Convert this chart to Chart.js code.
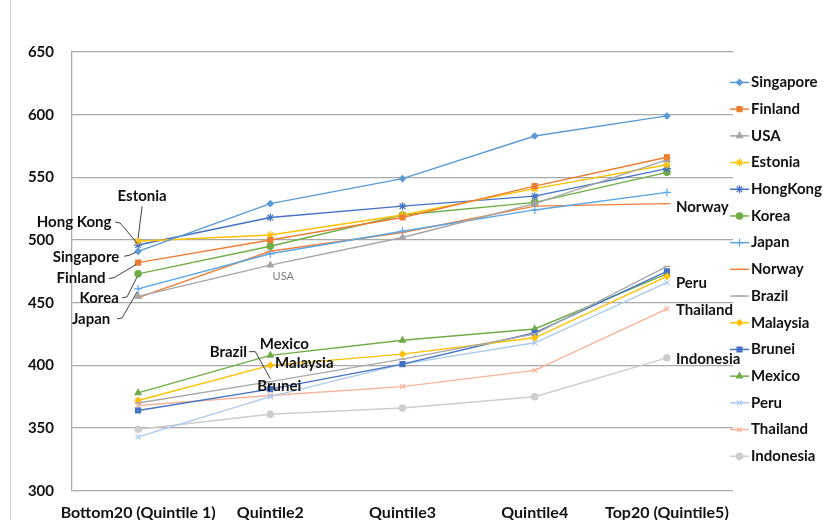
<!DOCTYPE html>
<html>
<head>
<meta charset="utf-8">
<script src="https://cdn.jsdelivr.net/npm/chart.js@4/dist/chart.umd.min.js"></script>
<style>
  html, body { margin: 0; padding: 0; background: #ffffff; }
  #wrap { position: relative; width: 824px; height: 520px; }
  canvas { display: block; }
</style>
</head>
<body>
<div id="wrap"><canvas id="c" width="824" height="520"></canvas></div>
<script>
// Mean scores by income quintile
const quintiles = ['Bottom20 (Quintile 1)', 'Quintile2', 'Quintile3', 'Quintile4', 'Top20 (Quintile5)'];
const yTicks = [300, 350, 400, 450, 500, 550, 600, 650];

const singapore = [491, 529, 549, 583, 599];
const finland   = [482, 500, 518, 543, 566];
const usa       = [455, 480, 502, 529, 564];
const estonia   = [499, 504, 520, 541, 560];
const hongKong  = [496, 518, 527, 535, 557];
const korea     = [473, 495, 520, 530, 554];
const japan     = [461, 489, 507, 524, 538];
const norway    = [454, 491, 506, 527, 529];
const brazil    = [370, 387, 405, 425, 479];
const malaysia  = [372, 400, 409, 422, 471];
const brunei    = [364, 381, 401, 426, 475];
const mexico    = [378, 408, 420, 429, 473];
const peru      = [343, 375, 401, 418, 466];
const thailand  = [368, 376, 383, 396, 445];
const indonesia = [349, 361, 366, 375, 406];

const series = [
  { label: 'Singapore', data: singapore, color: '#5B9BD5', style: 'rectRot', r: 3 },
  { label: 'Finland',   data: finland,   color: '#ED7D31', style: 'rect',    r: 3.5 },
  { label: 'USA',       data: usa,       color: '#A5A5A5', style: 'triangle', r: 3.5 },
  { label: 'Estonia',   data: estonia,   color: '#FFC000', style: 'star',    r: 4 },
  { label: 'HongKong',  data: hongKong,  color: '#4472C4', style: 'star',    r: 4 },
  { label: 'Korea',     data: korea,     color: '#70AD47', style: 'circle',  r: 3.2 },
  { label: 'Japan',     data: japan,     color: '#5AA5E6', style: 'cross',   r: 4 },
  { label: 'Norway',    data: norway,    color: '#F2813A', style: 'line',    r: 3.5 },
  { label: 'Brazil',    data: brazil,    color: '#A9A9A9', style: 'line',    r: 3.5 },
  { label: 'Malaysia',  data: malaysia,  color: '#FFC000', style: 'rectRot', r: 3 },
  { label: 'Brunei',    data: brunei,    color: '#4472C4', style: 'rect',    r: 3.5 },
  { label: 'Mexico',    data: mexico,    color: '#70AD47', style: 'triangle', r: 3.5 },
  { label: 'Peru',      data: peru,      color: '#A9CBEE', style: 'crossRot', r: 3.5 },
  { label: 'Thailand',  data: thailand,  color: '#F5B39A', style: 'crossRot', r: 3.5 },
  { label: 'Indonesia', data: indonesia, color: '#CDCDCD', style: 'circle',  r: 3.2 }
];

// Callout labels attached to a series point; offsets in px from that point
const callouts = [
  { series: 'Estonia',   i: 0, text: 'Estonia',   dx: 4,   dy: -45, align: 'center', leader: [[4, -35], [0, -3]] },
  { series: 'HongKong',  i: 0, text: 'Hong Kong', dx: -64, dy: -23, align: 'center', leader: [[-23, -23], [-18, -22], [-1, -2]] },
  { series: 'Singapore', i: 0, text: 'Singapore', dx: -52, dy: 6,   align: 'center', leader: [[-14, 5], [-9, 4], [-2, 1]] },
  { series: 'Finland',   i: 0, text: 'Finland',   dx: -57, dy: 16,  align: 'center', leader: [[-29, 16], [-24, 15], [-2, 2]] },
  { series: 'Korea',     i: 0, text: 'Korea',     dx: -39, dy: 24,  align: 'center', leader: [[-16, 24], [-11, 23], [-1, 3]] },
  { series: 'Japan',     i: 0, text: 'Japan',     dx: -47, dy: 30,  align: 'center', leader: [[-21, 30], [-16, 29], [-1, 3]] },
  { series: 'USA',       i: 1, text: 'USA',       dx: 13,  dy: 11,  align: 'center', small: true },
  { series: 'Brazil',    i: 1, text: 'Brazil',    dx: -42, dy: -29, align: 'center', leader: [[-21, -30], [-15, -30], [0, -3]] },
  { series: 'Mexico',    i: 1, text: 'Mexico',    dx: 14,  dy: -11, align: 'center' },
  { series: 'Malaysia',  i: 1, text: 'Malaysia',  dx: 34,  dy: -2,  align: 'center' },
  { series: 'Brunei',    i: 1, text: 'Brunei',    dx: 9,   dy: -3,  align: 'center' },
  { series: 'Norway',    i: 4, text: 'Norway',    dx: 9,   dy: 3,   align: 'left' },
  { series: 'Peru',      i: 4, text: 'Peru',      dx: 9,   dy: 1,   align: 'left' },
  { series: 'Thailand',  i: 4, text: 'Thailand',  dx: 9,   dy: 1,   align: 'left' },
  { series: 'Indonesia', i: 4, text: 'Indonesia', dx: 9,   dy: 1,   align: 'left' }
];

Chart.defaults.font.family = 'Lato, "Open Sans", sans-serif';

const calloutPlugin = {
  id: 'callouts',
  afterDatasetsDraw(chart) {
    const ctx = chart.ctx;
    const xs = chart.scales.x, ys = chart.scales.y;
    ctx.save();
    callouts.forEach(c => {
      const s = series.find(d => d.label === c.series);
      const px = xs.getPixelForValue(c.i);
      const py = ys.getPixelForValue(s.data[c.i]);
      if (c.leader) {
        ctx.beginPath();
        ctx.strokeStyle = '#404040';
        ctx.lineWidth = 1;
        c.leader.forEach((p, k) => {
          if (k === 0) ctx.moveTo(px + p[0], py + p[1]);
          else ctx.lineTo(px + p[0], py + p[1]);
        });
        ctx.stroke();
      }
      ctx.textAlign = c.align;
      ctx.textBaseline = 'middle';
      if (c.small) {
        ctx.font = '400 11px Lato, sans-serif';
        ctx.fillStyle = '#7f7f7f';
      } else {
        ctx.font = '700 15px Lato, sans-serif';
        ctx.fillStyle = '#111111';
      }
      ctx.fillText(c.text, px + c.dx, py + c.dy);
    });
    ctx.restore();
  }
};

// Vertical legend on the right with a line sample and marker for each series
const sideLegend = {
  id: 'sideLegend',
  beforeDraw(chart) {
    const ctx = chart.ctx;
    ctx.save();
    ctx.fillStyle = '#ffffff';
    ctx.fillRect(0, 0, chart.width, chart.height);
    ctx.strokeStyle = '#d0d0d0';
    ctx.lineWidth = 1;
    ctx.beginPath();
    ctx.moveTo(10.5, 0);
    ctx.lineTo(10.5, chart.height);
    ctx.stroke();
    ctx.restore();
  },
  afterDraw(chart) {
    const ctx = chart.ctx;
    const area = chart.chartArea;
    const rowH = 26.7;
    const n = series.length;
    const mid = (area.top + area.bottom) / 2 - 2;
    const y0 = mid - rowH * (n - 1) / 2;
    const x0 = area.right - 3;
    ctx.save();
    series.forEach((s, k) => {
      const y = y0 + k * rowH;
      ctx.beginPath();
      ctx.strokeStyle = s.color;
      ctx.lineWidth = 1.5;
      ctx.moveTo(x0, y);
      ctx.lineTo(x0 + 19, y);
      ctx.stroke();
      ctx.fillStyle = s.color;
      ctx.strokeStyle = s.color;
      ctx.lineWidth = 1.2;
      Chart.helpers.drawPoint(ctx, {
        pointStyle: s.style, radius: s.r, borderWidth: 1.2, rotation: 0
      }, x0 + 9.5, y);
      ctx.fillStyle = '#111111';
      ctx.font = '700 15px Lato, sans-serif';
      ctx.textAlign = 'left';
      ctx.textBaseline = 'middle';
      ctx.fillText(s.label, x0 + 21, y);
    });
    ctx.restore();
  }
};

new Chart(document.getElementById('c'), {
  type: 'line',
  data: {
    labels: quintiles,
    datasets: series.map(s => ({
      label: s.label,
      data: s.data,
      borderColor: s.color,
      backgroundColor: s.color,
      pointStyle: s.style,
      pointRadius: s.r,
      pointBorderWidth: 1.2,
      borderWidth: 1.4,
      tension: 0,
      fill: false
    }))
  },
  options: {
    responsive: false,
    animation: false,
    devicePixelRatio: 1,
    layout: { padding: { top: 52, right: 91, left: 0, bottom: 0 } },
    plugins: {
      legend: { display: false },
      tooltip: { enabled: false }
    },
    scales: {
      x: {
        offset: true,
        grid: { display: false, drawTicks: false },
        border: { display: false },
        ticks: {
          color: '#111111',
          font: { size: 16, weight: '700' },
          padding: 13,
          maxRotation: 0,
          autoSkip: false
        },
        afterFit(scale) { scale.height = 29.3; }
      },
      y: {
        min: 300,
        max: 650,
        afterBuildTicks(scale) { scale.ticks = yTicks.map(v => ({ value: v })); },
        grid: { color: '#a9a9a9', lineWidth: 1.3, drawTicks: false },
        border: { display: true, color: '#a9a9a9', width: 1.3 },
        ticks: {
          color: '#111111',
          font: { size: 15, weight: '700' },
          padding: 18
        },
        afterFit(scale) { scale.width = 72; }
      }
    }
  },
  plugins: [calloutPlugin, sideLegend]
});
</script>
</body>
</html>
